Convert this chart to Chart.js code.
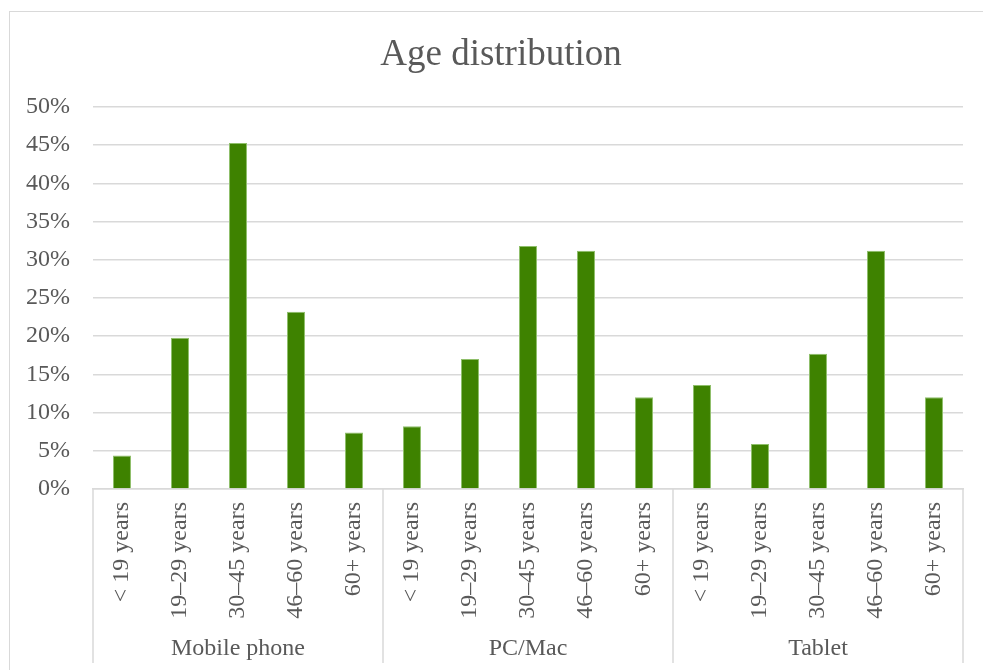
<!DOCTYPE html>
<html>
<head>
<meta charset="utf-8">
<style>
  html, body { margin: 0; padding: 0; background: #fff; overflow: hidden; }
  #wrap { width: 983px; height: 670px; }
</style>
<script src="https://cdn.jsdelivr.net/npm/chart.js@4/dist/chart.umd.min.js"></script>
</head>
<body>
<div id="wrap"><canvas id="ageChart" width="983" height="670"></canvas></div>
<script>
// Data
const chartTitle = 'Age distribution';
const groups = ['Mobile phone', 'PC/Mac', 'Tablet'];
const ageBands = ['< 19 years', '19–29 years', '30–45 years', '46–60 years', '60+ years'];
const mobileValues = [4.4, 19.8, 45.3, 23.2, 7.4];
const pcValues = [8.2, 17.0, 31.8, 31.2, 12.0];
const tabletValues = [13.6, 5.9, 17.7, 31.2, 12.0];
const yTicks = [0, 5, 10, 15, 20, 25, 30, 35, 40, 45, 50];

const textColor = '#595959';
const lineColor = '#d9d9d9';
const serif = '"Liberation Serif", "Times New Roman", serif';

// flatten into one category axis (age band repeated per device)
const labels = [];
groups.forEach(() => ageBands.forEach(b => labels.push(b)));
const values = [].concat(mobileValues, pcValues, tabletValues);

// Outer frame, title, group separators and group names under the axis
const groupAxisPlugin = {
  id: 'groupAxis',
  beforeDraw(chart) {
    const ctx = chart.ctx;
    ctx.save();
    ctx.strokeStyle = lineColor;
    ctx.lineWidth = 1;
    ctx.strokeRect(9.5, 11.5, 990, 680);
    // title is centred on the whole (wider) chart frame, not the canvas
    ctx.fillStyle = textColor;
    ctx.font = '37px ' + serif;
    ctx.textAlign = 'center';
    ctx.textBaseline = 'middle';
    ctx.fillText(chartTitle, 501, 55);
    ctx.restore();
  },
  afterDraw(chart) {
    const ctx = chart.ctx;
    const x = chart.scales.x;
    const area = chart.chartArea;
    const per = ageBands.length;
    const half = (x.getPixelForTick(1) - x.getPixelForTick(0)) / 2;
    ctx.save();
    ctx.strokeStyle = lineColor;
    ctx.lineWidth = 1.5;
    ctx.fillStyle = textColor;
    ctx.font = '24px ' + serif;
    ctx.textAlign = 'center';
    ctx.textBaseline = 'middle';
    groups.forEach((g, gi) => {
      const left = x.getPixelForTick(gi * per) - half;
      const right = x.getPixelForTick(gi * per + per - 1) + half;
      ctx.beginPath();
      ctx.moveTo(Math.round(left), area.bottom);
      ctx.lineTo(Math.round(left), 663);
      if (gi === groups.length - 1) {
        ctx.moveTo(Math.round(right), area.bottom);
        ctx.lineTo(Math.round(right), 663);
      }
      ctx.stroke();
      ctx.fillText(g, (left + right) / 2, 649);
    });
    ctx.restore();
  }
};

new Chart(document.getElementById('ageChart'), {
  type: 'bar',
  data: {
    labels: labels,
    datasets: [{
      label: chartTitle,
      data: values,
      backgroundColor: '#3e8200',
      borderColor: '#8fbf6a',
      borderWidth: 1,
      barPercentage: 0.31,
      categoryPercentage: 1
    }]
  },
  options: {
    responsive: false,
    animation: false,
    layout: {
      padding: { top: 107, right: 20, bottom: 0, left: 0 }
    },
    plugins: {
      legend: { display: false },
      tooltip: { enabled: false },
      title: { display: false }
    },
    scales: {
      x: {
        grid: { display: false },
        border: { display: true, color: lineColor, width: 1.5 },
        ticks: {
          autoSkip: false,
          minRotation: 90,
          maxRotation: 90,
          padding: 5,
          color: textColor,
          font: { family: serif, size: 24 }
        },
        afterFit(scale) { scale.height = 181; }
      },
      y: {
        min: 0,
        max: 50,
        border: { display: false },
        grid: { color: lineColor, lineWidth: 1.5, drawTicks: false },
        afterBuildTicks(scale) {
          scale.ticks = yTicks.map(v => ({ value: v }));
        },
        ticks: {
          padding: 23,
          color: textColor,
          font: { family: serif, size: 24 },
          callback: v => v + '%'
        },
        afterFit(scale) { scale.width = 93; }
      }
    }
  },
  plugins: [groupAxisPlugin]
});
</script>
</body>
</html>
